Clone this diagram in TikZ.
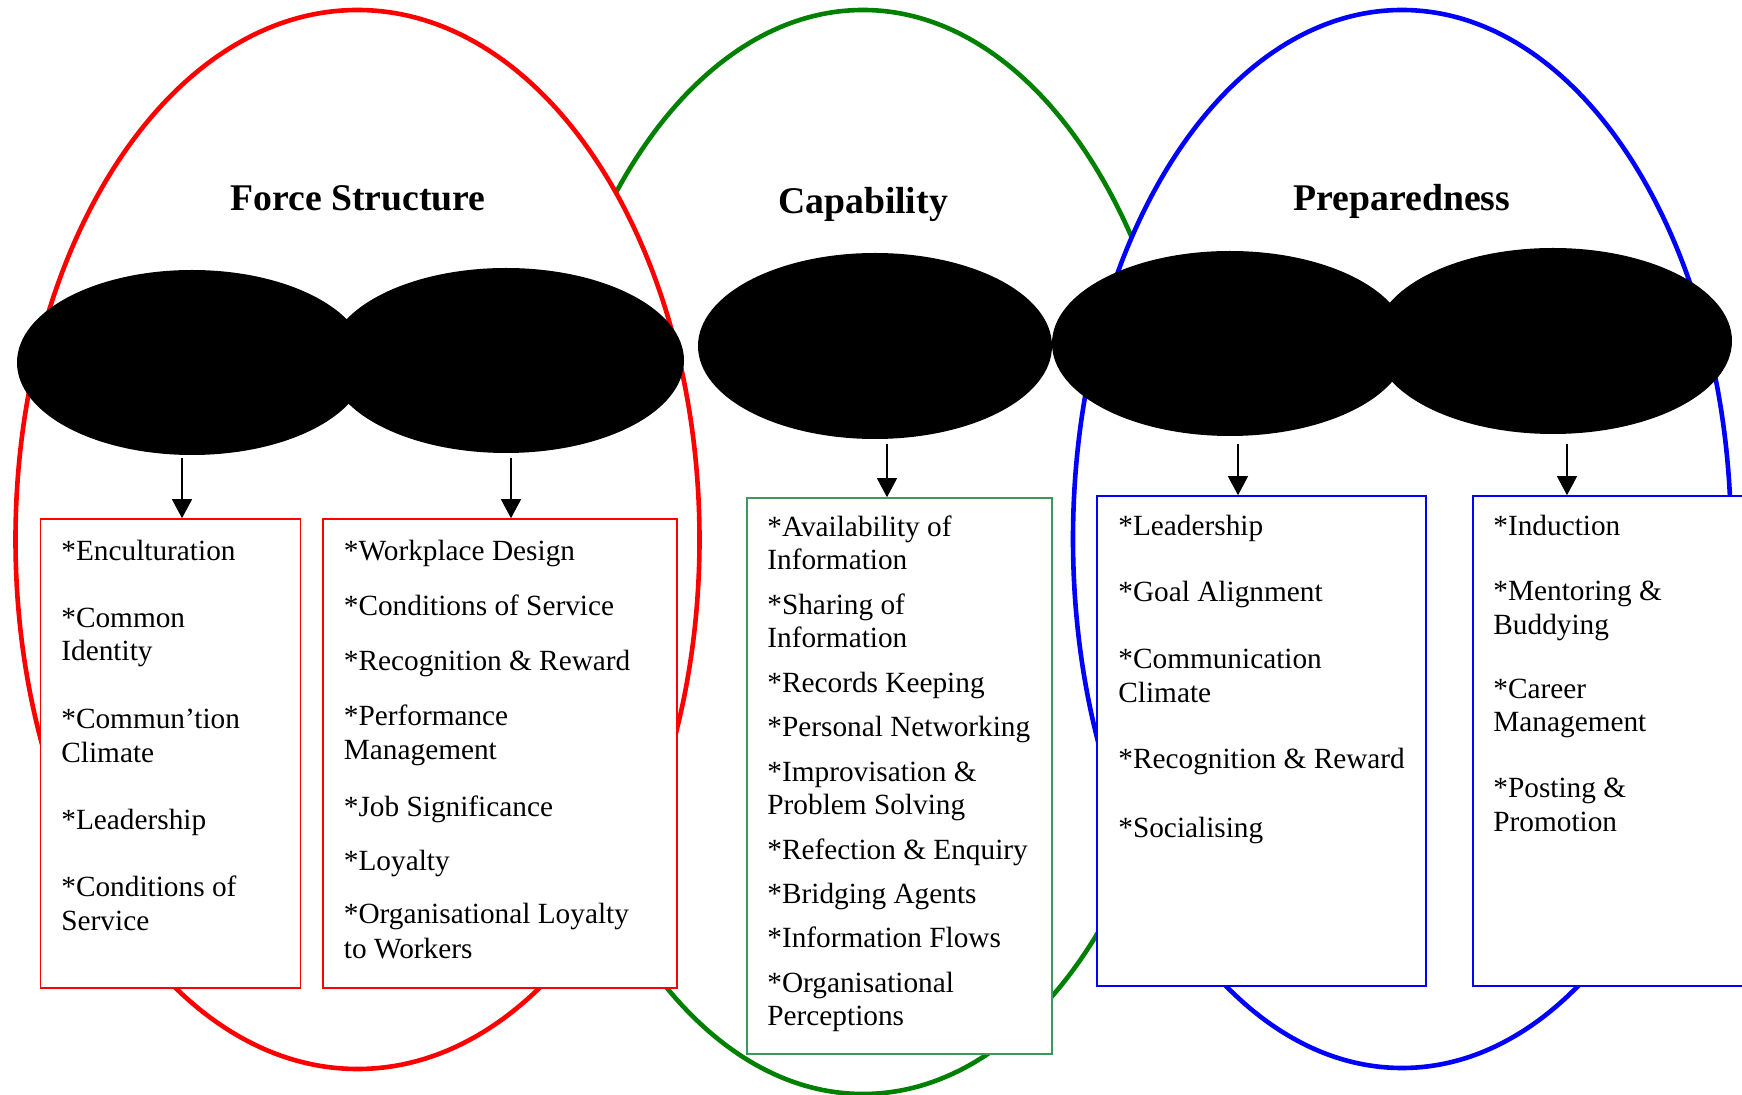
\documentclass[tikz,border=0pt]{standalone}
\usepackage{fontspec}
\setmainfont{Liberation Serif}
\usetikzlibrary{shapes.geometric,arrows.meta}
\definecolor{bgreen}{HTML}{008000}
\definecolor{boxgreen}{HTML}{3A9A5E}
\tikzset{
  bigell/.style={ellipse, line width=2.3pt, fill=white, inner sep=0pt},
  blackell/.style={ellipse, fill=black, draw=none, inner sep=0pt, minimum width=#1},
  itembox/.style={rectangle, line width=0.8pt, fill=white, inner sep=0pt},
  itemtext/.style={anchor=base west, inner sep=0pt, font=\fontsize{14.65pt}{17pt}\selectfont},
  titletext/.style={anchor=base, inner sep=0pt, font=\fontsize{18.85pt}{22pt}\selectfont\bfseries},
  arr/.style={line width=0.6pt, -{Triangle[length=9.5pt,width=10pt]}}
}
\begin{document}
\begin{tikzpicture}[x=0.5pt,y=-0.5pt]
\useasboundingbox (0,0) rectangle (1742,1095);
\clip (0,0) rectangle (1742,1095);
% big ellipses
\node[bigell, draw=bgreen, minimum width=330pt, minimum height=542pt] (gell) at (863,552) {};
\node[bigell, draw=red, minimum width=342pt, minimum height=529.5pt] (rell) at (357.5,539.5) {};
\node[bigell, draw=blue, minimum width=329pt, minimum height=529pt] (bell) at (1402,539) {};
% titles
\node[titletext] (tfs) at (358,211) {Force Structure};
\node[titletext] (tcap) at (863,213.5) {Capability};
\node[titletext] (tprep) at (1402,211) {Preparedness};
% boxes
\node[itembox, draw=red, minimum width=130pt, minimum height=234.5pt] (b1) at (170.5,753.5) {};
\node[itembox, draw=red, minimum width=177pt, minimum height=234.5pt] (b2) at (500,753.5) {};
\node[itembox, draw=boxgreen, minimum width=152.5pt, minimum height=278pt] (b3) at (899.5,776) {};
\node[itembox, draw=blue, minimum width=164.5pt, minimum height=245pt] (b4) at (1261.5,741) {};
\node[itembox, draw=blue, minimum width=163.5pt, minimum height=245pt] (b5) at (1636.5,741) {};
% black ellipses
\node[blackell=175pt, minimum height=92.5pt] (e1) at (192,362.5) {};
\node[blackell=178pt, minimum height=92.5pt] (e2) at (506,360.5) {};
\node[blackell=177pt, minimum height=93pt] (e3) at (875,346) {};
\node[blackell=178pt, minimum height=92.5pt] (e4) at (1230,343.5) {};
\node[blackell=179pt, minimum height=93pt] (e5) at (1553,341) {};
% arrows
\coordinate (a1) at (182,458);
\coordinate (a2) at (511,458);
\coordinate (a3) at (887,444);
\coordinate (a4) at (1238,444);
\coordinate (a5) at (1567,444);
\draw[arr] (a1) -- (a1 |- b1.north);
\draw[arr] (a2) -- (a2 |- b2.north);
\draw[arr] (a3) -- (a3 |- b3.north);
\draw[arr] (a4) -- (a4 |- b4.north);
\draw[arr] (a5) -- (a5 |- b5.north);
\begin{scope}[yshift=-0.6pt]
% box 1 text
\node[itemtext] (t1a) at (61,559) {*Enculturation};
\node[itemtext] (t1b) at (61,626.5) {*Common};
\node[itemtext] (t1c) at (61,659.5) {Identity};
\node[itemtext] (t1d) at (61,727.5) {*Commun’tion};
\node[itemtext] (t1e) at (61,761) {Climate};
\node[itemtext] (t1f) at (61,828) {*Leadership};
\node[itemtext] (t1g) at (61,895.5) {*Conditions of};
\node[itemtext] (t1h) at (61,929.5) {Service};
% box 2 text
\node[itemtext] (t2a) at (343.5,559) {*Workplace Design};
\node[itemtext] (t2b) at (343.5,614) {*Conditions of Service};
\node[itemtext] (t2c) at (343.5,669) {*Recognition \& Reward};
\node[itemtext] (t2d) at (343.5,724) {*Performance};
\node[itemtext] (t2e) at (343.5,758.5) {Management};
\node[itemtext] (t2f) at (343.5,815) {*Job Significance};
\node[itemtext] (t2g) at (343.5,869.5) {*Loyalty};
\node[itemtext] (t2h) at (343.5,922.5) {*Organisational Loyalty};
\node[itemtext] (t2i) at (343.5,957) {to Workers};
% box 3 text
\node[itemtext] (t3a) at (767,535) {*Availability of};
\node[itemtext] (t3b) at (767,568.5) {Information};
\node[itemtext] (t3c) at (767,613) {*Sharing of};
\node[itemtext] (t3d) at (767,646.5) {Information};
\node[itemtext] (t3e) at (767,691.5) {*Records Keeping};
\node[itemtext] (t3f) at (767,735.5) {*Personal Networking};
\node[itemtext] (t3g) at (767,780) {*Improvisation \&};
\node[itemtext] (t3h) at (767,813.5) {Problem Solving};
\node[itemtext] (t3i) at (767,858) {*Refection \& Enquiry};
\node[itemtext] (t3j) at (767,902.5) {*Bridging Agents};
\node[itemtext] (t3k) at (767,946.5) {*Information Flows};
\node[itemtext] (t3l) at (767,991) {*Organisational};
\node[itemtext] (t3m) at (767,1024.5) {Perceptions};
% box 4 text
\node[itemtext] (t4a) at (1118,534) {*Leadership};
\node[itemtext] (t4b) at (1118,600.5) {*Goal Alignment};
\node[itemtext] (t4c) at (1118,667) {*Communication};
\node[itemtext] (t4d) at (1118,701) {Climate};
\node[itemtext] (t4e) at (1118,767.5) {*Recognition \& Reward};
\node[itemtext] (t4f) at (1118,836.5) {*Socialising};
% box 5 text
\node[itemtext] (t5a) at (1493,534) {*Induction};
\node[itemtext] (t5b) at (1493,599) {*Mentoring \&};
\node[itemtext] (t5c) at (1493,633) {Buddying};
\node[itemtext] (t5d) at (1493,697.5) {*Career};
\node[itemtext] (t5e) at (1493,730.5) {Management};
\node[itemtext] (t5f) at (1493,796.5) {*Posting \&};
\node[itemtext] (t5g) at (1493,830.5) {Promotion};
\end{scope}
\end{tikzpicture}
\end{document}
